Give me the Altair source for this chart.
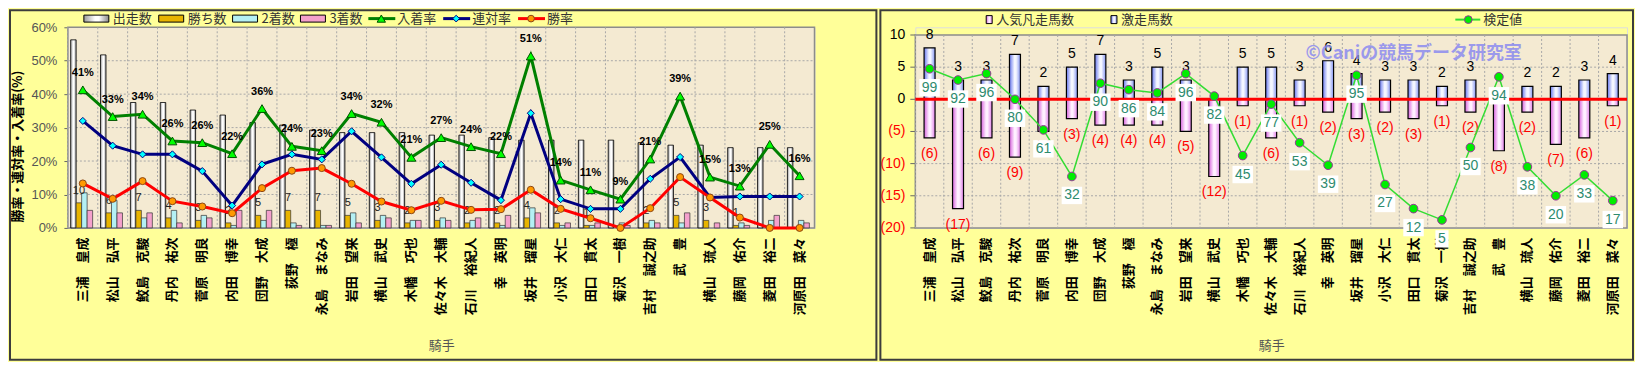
import altair as alt
import pandas as pd

names = ["三浦　皇成", "松山　弘平", "鮫島　克駿", "丹内　祐次", "菅原　明良", "内田　博幸",
         "団野　大成", "荻野　極", "永島　まなみ", "岩田　望来", "横山　武史", "木幡　巧也",
         "佐々木　大輔", "石川　裕紀人", "幸　英明", "坂井　瑠星", "小沢　大仁", "田口　貫太",
         "菊沢　一樹", "吉村　誠之助", "武　豊", "横山　琉人", "藤岡　佑介", "菱田　裕二", "河原田　菜々"]
starts = [75, 69, 50, 50, 47, 45, 42, 41, 39, 38, 38, 38, 37, 37, 36, 35, 35, 35, 35, 34, 33, 33, 32, 32, 32]
wins = [10, 6, 7, 4, 3, 2, 5, 7, 7, 5, 3, 2, 3, 2, 2, 4, 2, 1, 0, 2, 5, 3, 1, 0, 0]
seconds = [14, 11, 4, 7, 5, 1, 3, 2, 1, 6, 5, 3, 4, 3, 1, 8, 1, 1, 2, 3, 2, 0, 2, 3, 3]
thirds = [7, 6, 6, 2, 4, 7, 7, 1, 1, 2, 4, 3, 3, 4, 5, 6, 2, 2, 1, 2, 6, 2, 1, 5, 2]
place_rate = [41.3, 33.3, 34.0, 26.0, 25.5, 22.2, 35.7, 24.4, 23.1, 34.2, 31.6, 21.1, 27.0,
              24.3, 22.2, 51.4, 14.3, 11.4, 8.6, 20.6, 39.4, 15.2, 12.5, 25.0, 15.6]
quinella_rate = [32.0, 24.6, 22.0, 22.0, 17.0, 6.7, 19.0, 22.0, 20.5, 28.9, 21.1, 13.2, 18.9,
                 13.5, 8.3, 34.3, 8.6, 5.7, 5.7, 14.7, 21.2, 9.1, 9.4, 9.4, 9.4]
win_rate = [13.3, 8.7, 14.0, 8.0, 6.4, 4.4, 11.9, 17.1, 17.9, 13.2, 7.9, 5.3, 8.1,
            5.4, 5.6, 11.4, 5.7, 2.9, 0.0, 5.9, 15.2, 9.1, 3.1, 0.0, 0.0]
gekisou = [8, 3, 3, 7, 2, 5, 7, 3, 5, 3, 0, 5, 5, 3, 6, 4, 3, 3, 2, 3, 0, 2, 2, 3, 4]
bonsou = [6, 17, 6, 9, 5, 3, 4, 4, 4, 5, 12, 1, 6, 1, 2, 3, 2, 3, 1, 2, 8, 2, 7, 6, 1]
kentei = [99, 92, 96, 80, 61, 32, 90, 86, 84, 96, 82, 45, 77, 53, 39, 95, 27, 12, 5, 50, 94, 38, 20, 33, 17]
right_ticks = [-20, -15, -10, -5, 0, 5, 10]

df = pd.DataFrame({"name": names, "starts": starts, "wins": wins, "second": seconds,
                   "third": thirds, "place": place_rate, "quin": quinella_rate,
                   "winr": win_rate, "geki": gekisou, "bon": bonsou, "kentei": kentei})
one = pd.DataFrame({"k": [0]})

FONT = "Noto Sans CJK JP"
NUMFONT = "Liberation Sans"
W1, W2, H = 748, 713, 201
BG = "#F4EAD2"
GRID = "#A8A8A8"

xscale = alt.Scale(paddingInner=0, paddingOuter=0)
xaxis = alt.Axis(labelAngle=270, labelFont=FONT, labelFontSize=13, labelFontWeight="bold",
                 labelColor="#000000", labelPadding=9, ticks=False, domain=False, grid=False,
                 labelOverlap=False, labelLimit=200, titleFont=FONT, titleFontSize=13,
                 titleColor="#555555", titleFontWeight="normal", titleY=118,
                 titleBaseline="middle")


def X(**kw):
    return alt.X("name:N", sort=names, scale=xscale, axis=xaxis, title="騎手", **kw)


def grad(c_edge_l, c_mid, c_edge_r):
    return alt.Gradient(gradient="linear", x1=0, x2=1, y1=0, y2=0, stops=[
        alt.GradientStop(color=c_edge_l, offset=0),
        alt.GradientStop(color=c_mid, offset=0.45),
        alt.GradientStop(color=c_mid, offset=0.6),
        alt.GradientStop(color=c_edge_r, offset=1)])


grad_gray = grad("#9A9A9A", "#FFFFFF", "#8A8A8A")
grad_blue = grad("#6676EE", "#F4F6FF", "#8494F2")
grad_pink = grad("#D660DC", "#FFF0FF", "#E080E8")

# ---------------- left panel ----------------
rate_scale = alt.Scale(domain=[0, 60], nice=False)
cnt_scale = alt.Scale(domain=[0, 80], nice=False)
xoff_scale = alt.Scale(domain=["starts", "wins", "second", "third"],
                       paddingInner=0, paddingOuter=0.72, align=0.35)

rate_axis = alt.Axis(orient="left", values=[0, 10, 20, 30, 40, 50, 60],
                     labelExpr="datum.value + '%'", grid=False, domain=False,
                     tickSize=4, tickColor="#666666", labelFont=NUMFONT, labelFontSize=13,
                     labelColor="#555555", labelPadding=7, titleFont=FONT, titleFontSize=13,
                     titleFontWeight="bold", titleColor="#000000", titleAngle=270,
                     titleX=-50, titleY=119, titleBaseline="middle")
cnt_axis = alt.Axis(orient="right", values=[0, 10, 20, 30, 40, 50, 60, 70, 80],
                    grid=False, domain=False, tickSize=5, tickColor="#666666",
                    labelFont=NUMFONT, labelFontSize=13, labelColor="#555555",
                    labelPadding=6, titleFont=FONT, titleFontSize=12, titleFontWeight="bold",
                    titleColor="#000000", titleAngle=270, titleX=40, titleY=107,
                    titleBaseline="middle")

bg1 = alt.Chart(one).mark_rect(fill=BG, stroke="#8C8C8C", strokeWidth=1.5).encode(
    x=alt.value(0), x2=alt.value(W1), y=alt.value(0), y2=alt.value(H))
frame1 = alt.Chart(one).mark_rect(fillOpacity=0, stroke="#3C3C3C", strokeWidth=2).encode(
    x=alt.value(-58), x2=alt.value(810), y=alt.value(-17), y2=alt.value(333))
vgrid1 = alt.Chart(df).mark_rule(color=GRID, strokeDash=[2, 2], strokeWidth=1).encode(
    x=X(bandPosition=0), y=alt.value(0), y2=alt.value(H))
hgrid1 = alt.Chart(pd.DataFrame({"v": [10, 20, 30, 40, 50]})).mark_rule(
    color=GRID, strokeDash=[2, 2], strokeWidth=1).encode(
    y=alt.Y("v:Q", scale=rate_scale, axis=rate_axis, title="勝率・連対率・入着率(%)"),
    x=alt.value(0), x2=alt.value(W1))

starts_bar = alt.Chart(df).transform_calculate(series="'starts'").mark_bar(
    color=grad_gray, stroke="#000000", strokeWidth=0.8).encode(
    x=X(), xOffset=alt.XOffset("series:N", scale=xoff_scale),
    y=alt.Y("starts:Q", scale=cnt_scale, axis=cnt_axis, title="出走数・勝ち数・2着数・3着数"))
other_bars = alt.Chart(df).transform_fold(["wins", "second", "third"], as_=["series", "cnt"]
    ).transform_filter("datum.cnt > 0").mark_bar(stroke="#333333", strokeWidth=0.7).encode(
    x=X(), xOffset=alt.XOffset("series:N", scale=xoff_scale),
    y=alt.Y("cnt:Q", scale=cnt_scale, axis=None),
    color=alt.Color("series:N", scale=alt.Scale(domain=["wins", "second", "third"],
                    range=["#E8B400", "#B4F0F4", "#F4A0CC"]), legend=None))
wins_lbl = alt.Chart(df).transform_filter("datum.wins > 0").transform_calculate(series="'wins'"
    ).mark_text(dy=-12, fontSize=11, color="#222222", font=NUMFONT).encode(
    x=X(), xOffset=alt.XOffset("series:N", scale=xoff_scale),
    y=alt.Y("wins:Q", scale=cnt_scale, axis=None), text="wins:Q")
counts = alt.layer(starts_bar, other_bars, wins_lbl)


def rline(field, color):
    return alt.Chart(df).mark_line(color=color, strokeWidth=3).encode(
        x=X(), y=alt.Y(f"{field}:Q", scale=rate_scale, axis=None))


def rpts(field, shape, fill, stroke, size):
    return alt.Chart(df).mark_point(shape=shape, filled=True, fill=fill, stroke=stroke,
                                    strokeWidth=1, size=size, opacity=1).encode(
        x=X(), y=alt.Y(f"{field}:Q", scale=rate_scale, axis=None))


place_lbl = alt.Chart(df).transform_calculate(lbl="round(datum.place) + '%'").mark_text(
    dy=-17, fontSize=11, fontWeight="bold", color="#000000", font=NUMFONT).encode(
    x=X(), y=alt.Y("place:Q", scale=rate_scale, axis=None), text="lbl:N")

rates = alt.layer(rline("place", "#008000"), rline("quin", "#000080"), rline("winr", "#FF0000"),
                  rpts("place", "triangle-up", "#00FF00", "#005000", 80),
                  rpts("quin", "diamond", "#00FFFF", "#000080", 50),
                  rpts("winr", "circle", "#FF9900", "#8B4513", 50),
                  place_lbl)

# left legend
LY = -8.7
leg1 = []
for (x0, fillc, txt) in [(16, grad_gray, "出走数"), (91, "#E8B400", "勝ち数"),
                         (165, "#B4F0F4", "2着数"), (233, "#F4A0CC", "3着数")]:
    leg1.append(alt.Chart(one).mark_rect(color=fillc, stroke="#000000", strokeWidth=1).encode(
        x=alt.value(x0), x2=alt.value(x0 + 25), y=alt.value(LY - 3.5), y2=alt.value(LY + 3.5)))
    leg1.append(alt.Chart(one).mark_text(text=txt, align="left", fontSize=13, color="#333333").encode(
        x=alt.value(x0 + 29), y=alt.value(LY)))
for (x0, lc, shape, fc, sc, sz, txt) in [(301, "#008000", "triangle-up", "#00FF00", "#005000", 70, "入着率"),
                                         (376, "#000080", "diamond", "#00FFFF", "#000080", 45, "連対率"),
                                         (451, "#FF0000", "circle", "#FF9900", "#8B4513", 45, "勝率")]:
    leg1.append(alt.Chart(one).mark_rule(color=lc, strokeWidth=3).encode(
        x=alt.value(x0), x2=alt.value(x0 + 27), y=alt.value(LY)))
    leg1.append(alt.Chart(one).mark_point(shape=shape, filled=True, fill=fc, stroke=sc,
                                          strokeWidth=1, size=sz, opacity=1).encode(
        x=alt.value(x0 + 13), y=alt.value(LY)))
    leg1.append(alt.Chart(one).mark_text(text=txt, align="left", fontSize=13, color="#333333").encode(
        x=alt.value(x0 + 29), y=alt.value(LY)))

left = alt.layer(bg1, vgrid1, hgrid1, counts, rates, *leg1, frame1).resolve_scale(
    y="independent").properties(width=W1, height=H)

# ---------------- right panel ----------------
prim_scale = alt.Scale(domain=[-20, 11.2], nice=False, zero=False)
sec_scale = alt.Scale(domain=[0, 124.8], nice=False, zero=False)

ticks_df = pd.DataFrame({"v": right_ticks})
bg2 = alt.Chart(pd.DataFrame({"t": [10], "b": [-20]})).mark_rect(
    fill=BG, stroke="#8C8C8C", strokeWidth=1.5).encode(
    x=alt.value(0), x2=alt.value(W2),
    y=alt.Y("t:Q", scale=prim_scale, axis=None), y2="b:Q")
tick_marks = alt.Chart(ticks_df).mark_rule(color="#666666", strokeWidth=1).encode(
    x=alt.value(-5), x2=alt.value(0), y=alt.Y("v:Q", scale=prim_scale, axis=None))
tick_lbl_pos = alt.Chart(ticks_df).transform_filter("datum.v >= 0").mark_text(
    align="right", fontSize=14, font=NUMFONT, color="#000000").encode(
    x=alt.value(-10), y=alt.Y("v:Q", scale=prim_scale, axis=None), text="v:Q")
tick_lbl_neg = alt.Chart(ticks_df).transform_filter("datum.v < 0").transform_calculate(
    t="'(' + (-datum.v) + ')'").mark_text(
    align="right", fontSize=14, font=NUMFONT, color="#FF0000").encode(
    x=alt.value(-10), y=alt.Y("v:Q", scale=prim_scale, axis=None), text="t:N")
hgrid2 = alt.Chart(ticks_df).transform_filter("datum.v > -20 && datum.v < 10 && datum.v != 0"
    ).mark_rule(color=GRID, strokeDash=[2, 2], strokeWidth=1).encode(
    y=alt.Y("v:Q", scale=prim_scale, axis=None), x=alt.value(0), x2=alt.value(W2))
vgrid2 = alt.Chart(df).transform_calculate(t="10", b="-20").mark_rule(
    color=GRID, strokeDash=[2, 2], strokeWidth=1).encode(
    x=X(bandPosition=0), y=alt.Y("t:Q", scale=prim_scale, axis=None), y2="b:Q")
pos_bar = alt.Chart(df).transform_filter("datum.geki > 0").transform_calculate(z="0").mark_bar(
    width=11, color=grad_blue, stroke="#000000", strokeWidth=1.2).encode(
    x=X(), y=alt.Y("geki:Q", scale=prim_scale, axis=None), y2="z:Q")
neg_bar = alt.Chart(df).transform_calculate(nb="-datum.bon", z="0").mark_bar(
    width=11, color=grad_pink, stroke="#000000", strokeWidth=1.2).encode(
    x=X(), y=alt.Y("nb:Q", scale=prim_scale, axis=None), y2="z:Q")
zero = alt.Chart(pd.DataFrame({"v": [0]})).mark_rule(color="#FF0000", strokeWidth=3).encode(
    y=alt.Y("v:Q", scale=prim_scale, axis=None), x=alt.value(0), x2=alt.value(W2))
pos_lbl = alt.Chart(df).transform_filter("datum.geki > 0").mark_text(
    dy=-13, fontSize=14, color="#000000", font=NUMFONT).encode(
    x=X(), y=alt.Y("geki:Q", scale=prim_scale, axis=None), text="geki:Q")
neg_lbl = alt.Chart(df).transform_calculate(nb="-datum.bon", t="'(' + datum.bon + ')'").mark_text(
    dy=16, fontSize=14, color="#FF0000", font=NUMFONT).encode(
    x=X(), y=alt.Y("nb:Q", scale=prim_scale, axis=None), text="t:N")
prim = alt.layer(bg2, tick_marks, tick_lbl_pos, tick_lbl_neg, hgrid2, vgrid2, pos_bar,
                 neg_bar, zero, pos_lbl, neg_lbl)

ky = alt.Y("kentei:Q", scale=sec_scale, axis=None)
kline = alt.Chart(df).mark_line(color="#33DD33", strokeWidth=1.5).encode(x=X(), y=ky)
kpts = alt.Chart(df).mark_point(filled=True, fill="#00EE00", stroke="#993399", strokeWidth=1,
                                size=75, opacity=1).encode(x=X(), y=ky)
kbox2 = alt.Chart(df).transform_filter("datum.kentei >= 10").mark_point(
    shape="M-1,-0.85H1V0.85H-1Z", filled=True, fill="#FFFFFF", size=420, yOffset=19,
    opacity=1).encode(x=X(), y=ky)
kbox1 = alt.Chart(df).transform_filter("datum.kentei < 10").mark_point(
    shape="M-0.76,-1H0.76V1H-0.76Z", filled=True, fill="#FFFFFF", size=300, yOffset=19,
    opacity=1).encode(x=X(), y=ky)
klbl = alt.Chart(df).mark_text(dy=19, fontSize=14, color="#2E8B6E", font=NUMFONT).encode(
    x=X(), y=ky, text="kentei:Q")
sec = alt.layer(kline, kbox2, kbox1, kpts, klbl)

RY = -7.7
leg2 = [
    alt.Chart(one).mark_rect(color=grad_pink, stroke="#000000", strokeWidth=1).encode(
        x=alt.value(71), x2=alt.value(77), y=alt.value(RY - 4), y2=alt.value(RY + 4)),
    alt.Chart(one).mark_text(text="人気凡走馬数", align="left", fontSize=13, color="#333333").encode(
        x=alt.value(81), y=alt.value(RY)),
    alt.Chart(one).mark_rect(color=grad_blue, stroke="#000000", strokeWidth=1).encode(
        x=alt.value(196), x2=alt.value(202), y=alt.value(RY - 4), y2=alt.value(RY + 4)),
    alt.Chart(one).mark_text(text="激走馬数", align="left", fontSize=13, color="#333333").encode(
        x=alt.value(206), y=alt.value(RY)),
    alt.Chart(one).mark_rule(color="#33DD33", strokeWidth=2).encode(
        x=alt.value(541), x2=alt.value(566), y=alt.value(RY)),
    alt.Chart(one).mark_point(filled=True, fill="#00EE00", stroke="#993399", strokeWidth=1,
                              size=60, opacity=1).encode(x=alt.value(554), y=alt.value(RY)),
    alt.Chart(one).mark_text(text="検定値", align="left", fontSize=13, color="#333333").encode(
        x=alt.value(569), y=alt.value(RY)),
    alt.Chart(one).mark_text(text="©Caniの競馬データ研究室", align="left", fontSize=18,
                             fontWeight="bold", color="#8C8CF0", opacity=0.85).encode(
        x=alt.value(391), y=alt.value(27)),
]
frame2 = alt.Chart(one).mark_rect(fillOpacity=0, stroke="#3C3C3C", strokeWidth=2).encode(
    x=alt.value(-35), x2=alt.value(719), y=alt.value(-17), y2=alt.value(333))

right = alt.layer(prim, sec, *leg2, frame2).resolve_scale(y="independent").properties(
    width=W2, height=H)

chart = alt.hconcat(left, right, spacing=0).properties(
    background="#FFFF99", padding=0).configure_view(strokeWidth=0).configure(font=FONT)

chart.save("out.html", embed_options={"renderer": "svg", "actions": False})
